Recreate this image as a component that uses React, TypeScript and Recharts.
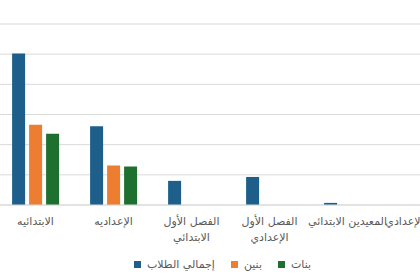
import { Bar, BarChart, CartesianGrid, Legend, XAxis, YAxis } from "recharts";

const categories = [
  "الابتدائيه",
  "الإعداديه",
  "الفصل الأول الابتدائي",
  "الفصل الأول الإعدادي",
  "المعيدين الابتدائي",
  "المعيدين الإعدادي",
];
const totalStudents = [5020, 2610, 800, 930, 70, 0];
const boys = [2660, 1310, 0, 0, 0, 0];
const girls = [2360, 1280, 0, 0, 0, 0];
const yTicks = [0, 1000, 2000, 3000, 4000, 5000, 6000];

const series = [
  { key: "total", name: "إجمالي الطلاب", color: "#1d5f8a" },
  { key: "boys", name: "بنين", color: "#ed7d31" },
  { key: "girls", name: "بنات", color: "#1e7031" },
];

const data = categories.map((name, i) => ({
  name,
  total: totalStudents[i],
  boys: boys[i],
  girls: girls[i],
}));

const font = "'DejaVu Sans', sans-serif";
const textColor = "#595959";

function CategoryTick(props: any) {
  const { x, y, payload } = props;
  const words = String(payload.value).split(" ");
  const lines =
    words.length > 2
      ? [words.slice(0, 2).join(" "), words.slice(2).join(" ")]
      : [words.join(" ")];
  return (
    <g transform={`translate(${x},${y})`}>
      {lines.map((line, i) => (
        <text
          key={i}
          x={0}
          y={20 + i * 16}
          textAnchor="middle"
          fill={textColor}
          fontSize={11}
          fontFamily={font}
        >
          {line}
        </text>
      ))}
    </g>
  );
}

function LegendBox() {
  return (
    <div
      style={{
        display: "flex",
        justifyContent: "center",
        alignItems: "center",
        gap: 16,
        fontFamily: font,
        fontSize: 11,
        color: textColor,
      }}
    >
      {series.map((s) => (
        <div key={s.key} style={{ display: "flex", alignItems: "center", gap: 6 }}>
          <span style={{ width: 7, height: 7, background: s.color, display: "inline-block" }} />
          <span>{s.name}</span>
        </div>
      ))}
    </div>
  );
}

export default function App() {
  return (
    <div
      style={{
        position: "fixed",
        left: 0,
        top: 0,
        width: 420,
        height: 280,
        overflow: "hidden",
        background: "#fff",
      }}
    >
      <BarChart
        width={420}
        height={280}
        data={data}
        margin={{ top: 24, right: -44.5, left: -3.5, bottom: 22 }}
        barCategoryGap="20%"
        barGap={4}
      >
        <CartesianGrid stroke="#d9d9d9" vertical={false} />
        <XAxis
          dataKey="name"
          height={40}
          interval={0}
          tickLine={false}
          tickSize={0}
          tickMargin={0}
          axisLine={{ stroke: "#d9d9d9" }}
          tick={<CategoryTick />}
        />
        <YAxis hide domain={[0, 6000]} ticks={yTicks} />
        <Legend
          content={<LegendBox />}
          wrapperStyle={{ left: 0, width: 445, top: 258, bottom: "auto" }}
        />
        {series.map((s) => (
          <Bar
            key={s.key}
            dataKey={s.key}
            name={s.name}
            fill={s.color}
            isAnimationActive={false}
          />
        ))}
      </BarChart>
    </div>
  );
}
